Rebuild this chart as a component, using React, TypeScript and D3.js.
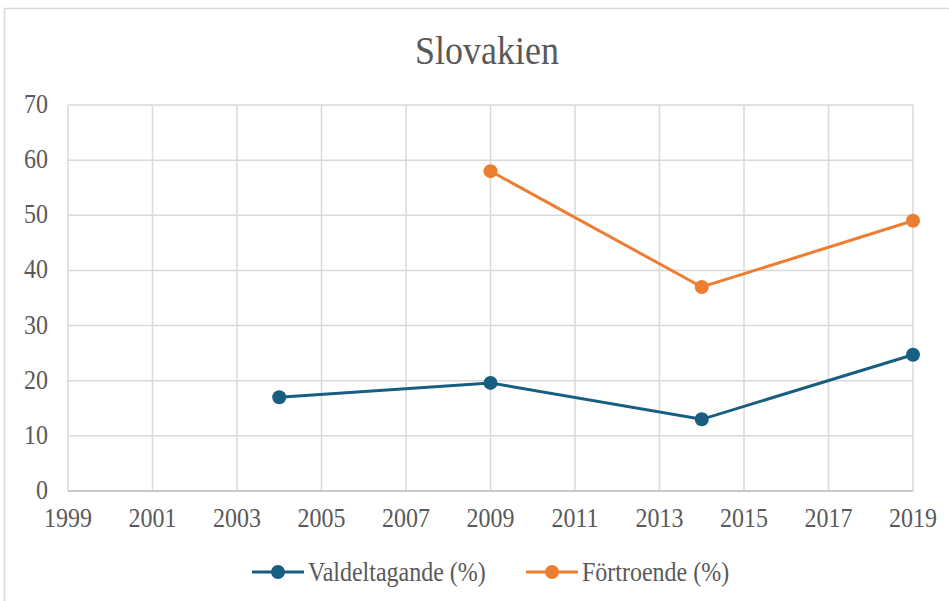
import React from "react";
import * as d3 from "d3";

const years = [2004, 2009, 2014, 2019];
const valdeltagande = [17.0, 19.6, 13.0, 24.7];
const fortroendeYears = [2009, 2014, 2019];
const fortroende = [58, 37, 49];
const xTicks = [1999, 2001, 2003, 2005, 2007, 2009, 2011, 2013, 2015, 2017, 2019];
const yTicks = [0, 10, 20, 30, 40, 50, 60, 70];

const BLUE = "#175e80";
const ORANGE = "#ed7d31";
const TEXT = "#595959";
const GRID = "#d9d9d9";
const FONT = "Liberation Serif";

function T(props: { x: number; y: number; size: number; anchor?: string; children: React.ReactNode }) {
  const { x, y, size, anchor = "start", children } = props;
  return (
    <text
      transform={`translate(${x},${y}) scale(1,1.12)`}
      textAnchor={anchor as any}
      fontSize={size}
      fill={TEXT}
      style={{ fontFamily: FONT }}
    >
      {children}
    </text>
  );
}

export default function App() {
  const W = 949, H = 601;
  const x = d3.scaleLinear().domain([1999, 2019]).range([68, 913]);
  const y = d3.scaleLinear().domain([0, 70]).range([491, 105]);
  const line = d3.line<[number, number]>().x(d => x(d[0])).y(d => y(d[1]));
  const s1: [number, number][] = years.map((yr, i) => [yr, valdeltagande[i]]);
  const s2: [number, number][] = fortroendeYears.map((yr, i) => [yr, fortroende[i]]);

  return (
    <svg width={W} height={H} style={{ position: "absolute", left: 0, top: 0, background: "#fff" }}>
      <rect x={0} y={0} width={W} height={H} fill="#fff" />
      <rect x={4.5} y={8.5} width={W + 10} height={H + 10} fill="none" stroke={GRID} strokeWidth={1.5} />
      <T x={487} y={64} size={36} anchor="middle">Slovakien</T>
      {yTicks.map(t => (
        <g key={"y" + t}>
          <line x1={68} x2={913} y1={y(t)} y2={y(t)} stroke={GRID} strokeWidth={1.5} />
          <T x={48} y={y(t) + 8} size={24} anchor="end">{t}</T>
        </g>
      ))}
      {xTicks.map(t => (
        <g key={"x" + t}>
          <line x1={x(t)} x2={x(t)} y1={105} y2={491} stroke={GRID} strokeWidth={1.5} />
          <T x={x(t)} y={527} size={24} anchor="middle">{t}</T>
        </g>
      ))}
      <line x1={68} x2={913} y1={491} y2={491} stroke="#bfbfbf" strokeWidth={1.5} />
      <path d={line(s1) || ""} fill="none" stroke={BLUE} strokeWidth={3} />
      <path d={line(s2) || ""} fill="none" stroke={ORANGE} strokeWidth={3} />
      {s1.map((d, i) => <circle key={"a" + i} cx={x(d[0])} cy={y(d[1])} r={7} fill={BLUE} />)}
      {s2.map((d, i) => <circle key={"b" + i} cx={x(d[0])} cy={y(d[1])} r={7} fill={ORANGE} />)}
      <g>
        <line x1={252} x2={304} y1={572} y2={572} stroke={BLUE} strokeWidth={3} />
        <circle cx={278} cy={572} r={7} fill={BLUE} />
        <T x={308} y={581} size={24}>Valdeltagande (%)</T>
        <line x1={526} x2={578} y1={572} y2={572} stroke={ORANGE} strokeWidth={3} />
        <circle cx={552} cy={572} r={7} fill={ORANGE} />
        <T x={582} y={581} size={24}>Förtroende (%)</T>
      </g>
    </svg>
  );
}
